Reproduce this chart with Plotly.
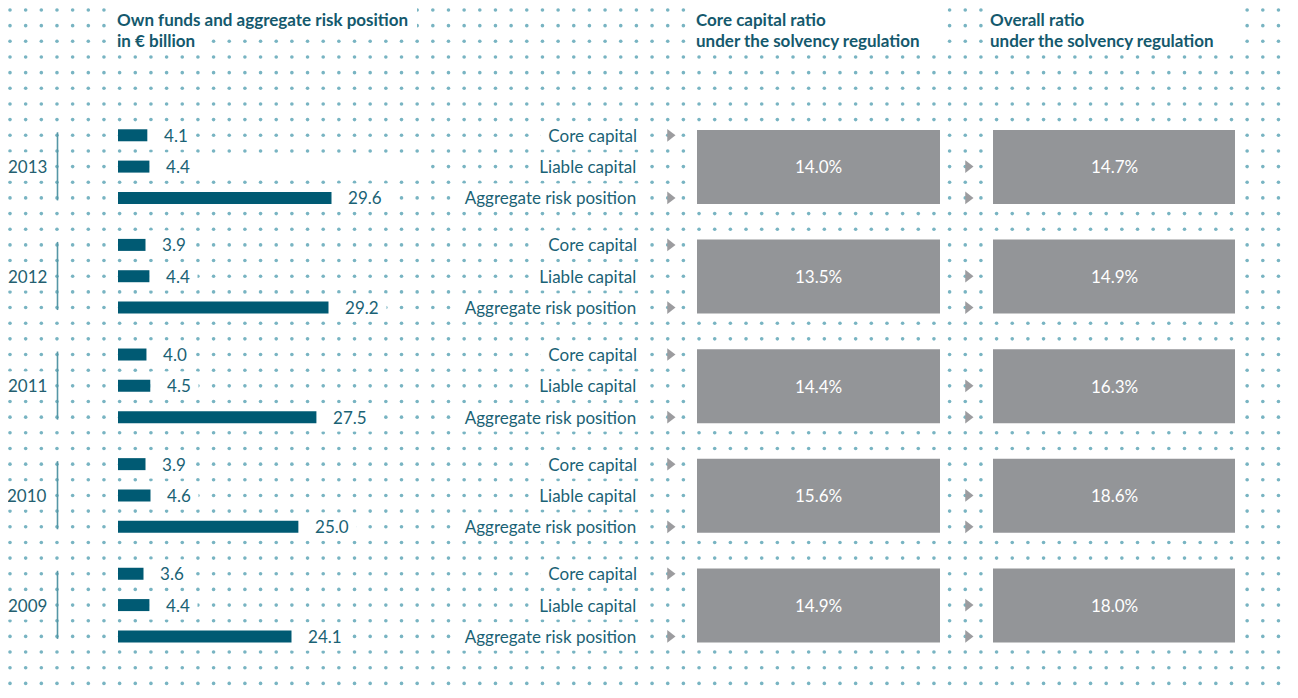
import numpy as np
import plotly.graph_objects as go

# ---------------- data ----------------
years = ["2013", "2012", "2011", "2010", "2009"]
row_labels = ["Core capital", "Liable capital", "Aggregate risk position"]
core_capital = [4.1, 3.9, 4.0, 3.9, 3.6]
liable_capital = [4.4, 4.4, 4.5, 4.6, 4.4]
aggregate_risk = [29.6, 29.2, 27.5, 25.0, 24.1]
core_ratio = ["14.0%", "13.5%", "14.4%", "15.6%", "14.9%"]
overall_ratio = ["14.7%", "14.9%", "16.3%", "18.6%", "18.0%"]

title_left = ["Own funds and aggregate risk position", "in € billion"]
title_mid = ["Core capital ratio", "under the solvency regulation"]
title_right = ["Overall ratio", "under the solvency regulation"]

# ---------------- style / layout ----------------
W, H = 1298, 698
OFF = 8  # default page body margin
STEP = 15.66
ORIG = 10.0
FONT = "Lato"
FS = 17
NB = "\u00a0"
BAR_COLOR = "#005a73"
TXT_COLOR = "#1a6275"
TITLE_COLOR = "#14596d"
YEAR_COLOR = "#245f70"
LINE_COLOR = "#5597a6"
DOT_COLOR = "#78b4c2"
BOX_COLOR = "#939598"
TRI_COLOR = "#9c9c9f"
PX_PER_UNIT = 7.23
BAR_X0 = 118
X2_MAX = 35


def grid_y(k):
    return ORIG + STEP * k


fig = go.Figure()

# dotted background
gx = np.arange(ORIG, W, STEP)
gy = np.arange(ORIG, H, STEP)
GX, GY = np.meshgrid(gx, gy)
fig.add_trace(go.Scatter(x=GX.ravel(), y=GY.ravel(), mode="markers",
                         marker=dict(size=3.6, color=DOT_COLOR, line=dict(width=0)),
                         hoverinfo="skip", showlegend=False))

# row positions
row_y = []
for gi in range(len(years)):
    base = 8 + 7 * gi
    row_y.append([grid_y(base), grid_y(base + 2), grid_y(base + 4)])

bar_vals, bar_ys = [], []
for gi in range(len(years)):
    for ri, vals in enumerate([core_capital, liable_capital, aggregate_risk]):
        bar_vals.append(vals[gi])
        bar_ys.append(row_y[gi][ri])

fig.add_trace(go.Bar(x=bar_vals, y=bar_ys, orientation="h", width=12,
                     marker=dict(color=BAR_COLOR, line=dict(width=0)),
                     xaxis="x2", yaxis="y", hoverinfo="skip", showlegend=False))

# triangles
tri_x, tri_y = [], []
for gi in range(len(years)):
    tri_x += [670, 670, 968, 968]
    tri_y += [row_y[gi][0], row_y[gi][2], row_y[gi][1], row_y[gi][2]]
fig.add_trace(go.Scatter(x=tri_x, y=tri_y, mode="markers",
                         marker=dict(symbol="triangle-right", size=11, color=TRI_COLOR,
                                     line=dict(width=0)),
                         hoverinfo="skip", showlegend=False))

shapes = []
annotations = []


def mask(x0, x1, y0, y1):
    shapes.append(dict(type="rect", xref="x", yref="y", x0=x0, x1=x1, y0=y0, y1=y1,
                       fillcolor="white", line=dict(width=0), layer="above"))


def ann(text, x, y, xanchor="left", size=FS, color=TXT_COLOR, bold=False, xref="x",
        bg="white", pad=3, xshift=0):
    annotations.append(dict(
        text=("<b>%s</b>" % text) if bold else text, x=x, y=y, xref=xref, yref="y",
        xanchor=xanchor, yanchor="middle", showarrow=False, xshift=xshift,
        font=dict(family=FONT, size=size, color=color),
        bgcolor=bg, borderpad=pad))


# title masks (white areas behind the headings)
mask(110, 417, 2, 33)
mask(110, 208, 33, 48)
mask(689, 943, 2, 48)
mask(985, 1240, 2, 48)

# titles
for (tx, lines) in [(116, title_left), (695, title_mid), (989, title_right)]:
    ann(lines[0], tx, 19, color=TITLE_COLOR, bold=True, bg=None, pad=0)
    ann(lines[1], tx, 40, color=TITLE_COLOR, bold=True, bg=None, pad=0)

# blank strip in the 2013 liable row
mask(186, 426, row_y[0][1] - 7, row_y[0][1] + 7)

for gi, yr in enumerate(years):
    ys = row_y[gi]
    # year label + bracket line
    ann(yr, 27, ys[1], xanchor="center", color=YEAR_COLOR)
    shapes.append(dict(type="line", xref="x", yref="y", x0=57.5, x1=57.5,
                       y0=ys[0] - 3, y1=ys[2] + 2.5,
                       line=dict(color=LINE_COLOR, width=1.6), layer="above"))
    # value labels + row labels
    for ri, vals in enumerate([core_capital, liable_capital, aggregate_risk]):
        ann(NB * 3 + "%.1f" % vals[gi] + NB, vals[gi], ys[ri], xref="x2", xshift=-1)
        ann(NB + row_labels[ri] + NB, 645, ys[ri], xanchor="right")
    # ratio boxes
    cy = ys[1] + 0.3
    for (x0, x1, txt) in [(697, 940, core_ratio[gi]), (993, 1235, overall_ratio[gi])]:
        shapes.append(dict(type="rect", xref="x", yref="y", x0=x0, x1=x1,
                           y0=cy - 37, y1=cy + 37, fillcolor=BOX_COLOR,
                           line=dict(width=0), layer="above"))
        ann(txt, (x0 + x1) / 2, cy, xanchor="center", color="white", bg=None, pad=0)

FW, FH = W - OFF, H - OFF
fig.update_layout(
    width=FW, height=FH, margin=dict(l=0, r=0, t=0, b=0),
    paper_bgcolor="white", plot_bgcolor="rgba(0,0,0,0)", showlegend=False,
    xaxis=dict(range=[OFF, W], domain=[0, 1], visible=False, fixedrange=True),
    xaxis2=dict(range=[0, X2_MAX],
                domain=[(BAR_X0 - OFF) / FW, (BAR_X0 - OFF + X2_MAX * PX_PER_UNIT) / FW],
                anchor="y", visible=False, fixedrange=True),
    yaxis=dict(range=[H, OFF], domain=[0, 1], visible=False, fixedrange=True),
    shapes=shapes, annotations=annotations,
)

fig.write_html("out.html")
